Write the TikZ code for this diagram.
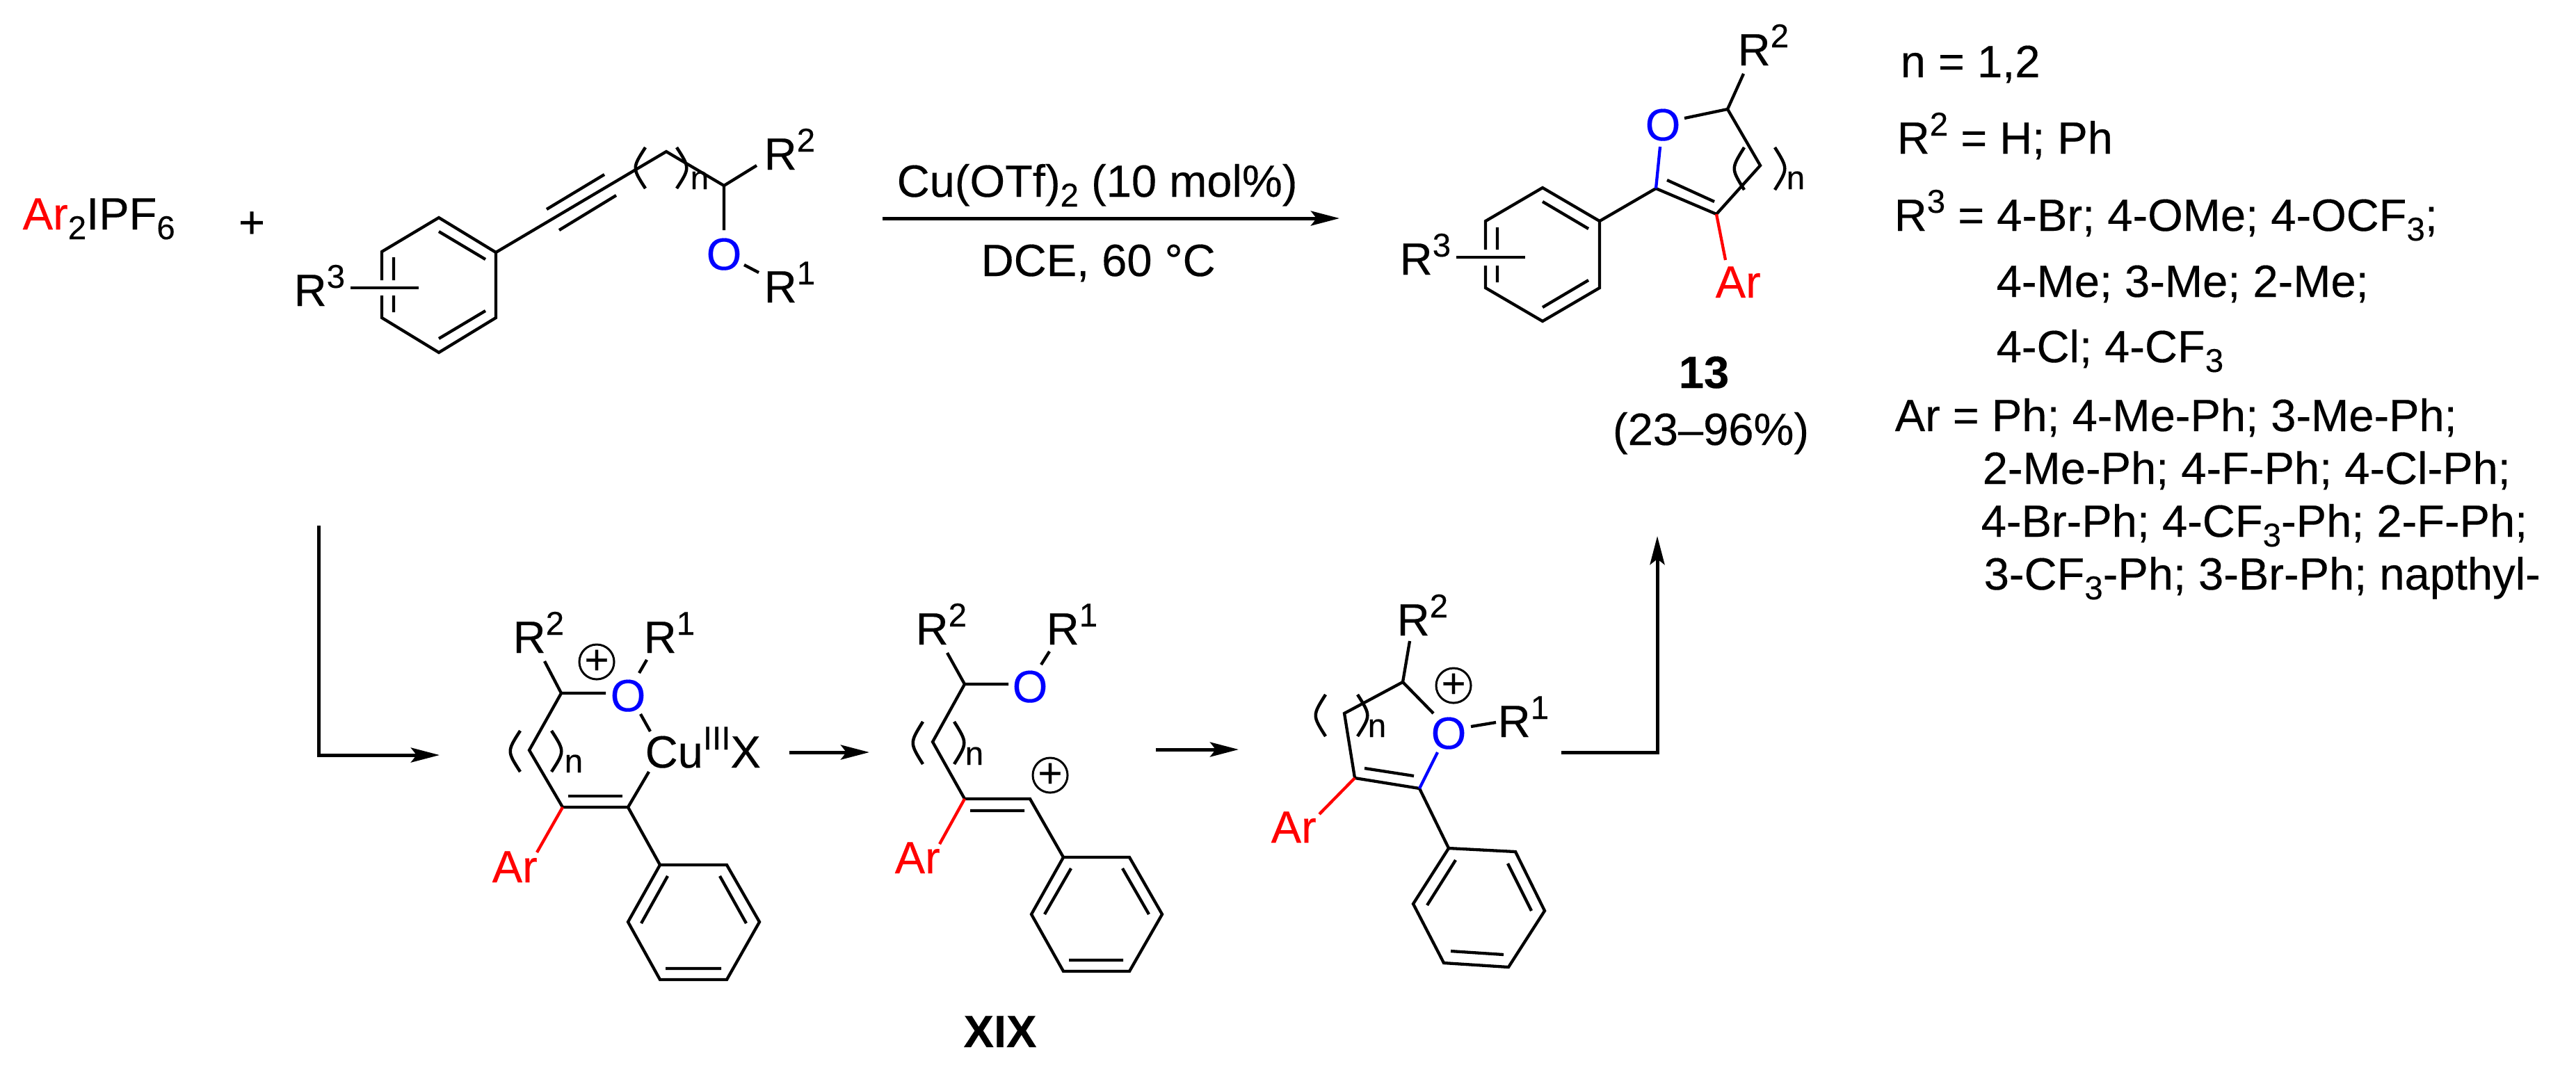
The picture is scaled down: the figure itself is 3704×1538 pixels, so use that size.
\documentclass[tikz,border=0pt]{standalone}
\usepackage{fontspec}
\setmainfont[FakeBold=0.25]{Liberation Sans}
\usetikzlibrary{arrows.meta}
\definecolor{atomblue}{RGB}{0,0,255}
\definecolor{arred}{RGB}{255,0,0}
\newcommand{\smalltxt}{\fontsize{13.5}{16}\selectfont}
\newcommand{\rsup}[1]{\raisebox{0.26cm}{\smalltxt #1}}
\newcommand{\rsub}[1]{\raisebox{-0.14cm}{\smalltxt #1}}
\newcommand{\parpair}[4]{%
  \draw[parenline] (#1,#2) .. controls ({#1-19},{(#2+#4)/2}) .. (#1,#4);
  \draw[parenline] (#3,#2) .. controls ({#3+19},{(#2+#4)/2}) .. (#3,#4);}
\newcommand{\ringsix}[1]{\draw[bond] (#1a)--(#1b)--(#1c)--(#1d)--(#1e)--(#1f)--cycle;}
\tikzset{
  bond/.style={line width=0.043cm},
  redbond/.style={bond, draw=arred},
  bluebond/.style={bond, draw=atomblue},
  parenline/.style={line width=0.045cm},
  arrowline/.style={line width=0.05cm, -{Stealth[length=4.1mm,width=2.1mm,inset=0.8mm]}},
  lab/.style={inner sep=0pt, anchor=base west, font=\fontsize{18.5}{22}\selectfont},
  oxy/.style={lab, anchor=base, text=atomblue},
  arl/.style={lab, text=arred},
  chg/.style={circle, draw, line width=0.03cm, inner sep=0pt, minimum size=0.5cm, font=\fontsize{17}{17}\selectfont},
}
\begin{document}
\begin{tikzpicture}[x=0.01cm, y=-0.01cm]
  \useasboundingbox (0,0) rectangle (3704,1538);

  % starting materials
  \node[lab] (iodonium) at (32,330) {\textcolor{arred}{Ar}\rsub{2}IPF\rsub{6}};
  \node[lab, anchor=base] (plus) at (362,342) {+};
  \coordinate (aa) at (631,313); \coordinate (ab) at (713,363); \coordinate (ac) at (713,457);
  \coordinate (ad) at (631,507); \coordinate (ae) at (549,457); \coordinate (af) at (549,362);
  \coordinate (ag1) at (549,403); \coordinate (ag2) at (549,425);
  \coordinate (at1) at (914,244); \coordinate (at2) at (958,218); \coordinate (at3) at (1041,267);
  \coordinate (ar2) at (1088,238); \coordinate (ao1) at (1041,331);
  \coordinate (ao2) at (1070,381); \coordinate (ar1) at (1091,392);
  \coordinate (ar3a) at (504,414); \coordinate (ar3b) at (602,414);
  \draw[bond] (ag1)--(af)--(aa)--(ab)--(ac)--(ad)--(ae)--(ag2);
  \draw[bond] (631,333)--(698,373) (698,447)--(631,487) (566,370)--(566,403) (566,425)--(566,449);
  \draw[bond] (ar3a)--(ar3b);
  \draw[bond] (ab)--(at1)--(at2)--(at3)--(ar2);
  \draw[bond] (786,301)--(869,251) (804,331)--(886,281);
  \draw[bond] (at3)--(ao1) (ao2)--(ar1);
  \parpair{928}{212}{973}{271}
  \node[lab] (an) at (992,272) {\smalltxt n};
  \node[lab] (ar3l) at (422,440) {R\rsup{3}};
  \node[lab] (ar2l) at (1098,244) {R\rsup{2}};
  \node[lab] (ar1l) at (1098,435) {R\rsup{1}};
  \node[oxy] (aox) at (1041,388) {O};

  % conditions
  \coordinate (cond1) at (1269,314); \coordinate (cond2) at (1926,314);
  \draw[arrowline] (cond1)--(cond2);
  \node[lab] (reagent) at (1289,283) {Cu(OTf)\rsub{2} (10 mol\%)};
  \node[lab] (solvent) at (1410,397) {DCE, 60 °C};

  % product 13
  \coordinate (pa) at (2218,270); \coordinate (pb) at (2300,318); \coordinate (pc) at (2300,414);
  \coordinate (pd) at (2218,462); \coordinate (pe) at (2136,414); \coordinate (pf) at (2136,318);
  \coordinate (pg1) at (2136,359); \coordinate (pg2) at (2136,382);
  \coordinate (pr3a) at (2094,370); \coordinate (pr3b) at (2193,370);
  \coordinate (pc1) at (2381,271); \coordinate (pc2) at (2468,308); \coordinate (pc3) at (2531,238);
  \coordinate (pc4) at (2484,157); \coordinate (po1) at (2387,211); \coordinate (po2) at (2422,170);
  \coordinate (pr2) at (2507,106); \coordinate (par) at (2481,374);
  \draw[bond] (pg1)--(pf)--(pa)--(pb)--(pc)--(pd)--(pe)--(pg2);
  \draw[bond] (2218,290)--(2284,329) (2284,403)--(2218,442) (2153,327)--(2153,359) (2153,382)--(2153,406);
  \draw[bond] (pr3a)--(pr3b);
  \draw[bond] (pb)--(pc1)--(pc2)--(pc3)--(pc4)--(po2) (pc4)--(pr2);
  \draw[bond] (2397,259)--(2465,290);
  \draw[bluebond] (pc1)--(po1);
  \draw[redbond] (pc2)--(par);
  \parpair{2508}{212}{2552}{273}
  \node[lab] (pn) at (2568,272) {\smalltxt n};
  \node[lab] (pr3l) at (2012,395) {R\rsup{3}};
  \node[lab] (pr2l) at (2498,94) {R\rsup{2}};
  \node[oxy] (pox) at (2391,202) {O};
  \node[arl] (parl) at (2466,428) {Ar};
  \node[lab, anchor=base, font=\fontsize{18.5}{22}\selectfont\bfseries] (pnum) at (2450,558) {13};
  \node[lab, anchor=base] (pyield) at (2460,640) {(23–96\%)};

  % scope of the reaction
  \node[lab] (scopea) at (2732,111) {n = 1,2};
  \node[lab] (scopeb) at (2727,221) {R\rsup{2} = H; Ph};
  \node[lab] (scopec) at (2723,332) {R\rsup{3} = 4-Br; 4-OMe; 4-OCF\rsub{3};};
  \node[lab] (scoped) at (2870,427) {4-Me; 3-Me; 2-Me;};
  \node[lab] (scopee) at (2870,521) {4-Cl; 4-CF\rsub{3}};
  \node[lab] (scopef) at (2724,620) {Ar = Ph; 4-Me-Ph; 3-Me-Ph;};
  \node[lab] (scopeg) at (2850,696) {2-Me-Ph; 4-F-Ph; 4-Cl-Ph;};
  \node[lab] (scopeh) at (2848,772) {4-Br-Ph; 4-CF\rsub{3}-Ph; 2-F-Ph;};
  \node[lab] (scopei) at (2852,848) {3-CF\rsub{3}-Ph; 3-Br-Ph; napthyl-};

  % copper complex
  \coordinate (elba) at (458,756); \coordinate (elbb) at (632,1086);
  \draw[arrowline] (elba) |- (elbb);
  \coordinate (bc1) at (807,997); \coordinate (bc2) at (761,1079); \coordinate (bc3) at (809,1161);
  \coordinate (bc4) at (903,1161); \coordinate (br2) at (783,951); \coordinate (bo1) at (871,997);
  \coordinate (bo2) at (919,968); \coordinate (br1) at (930,949); \coordinate (bo3) at (921,1027);
  \coordinate (bcu1) at (935,1052); \coordinate (bcu2) at (933,1110); \coordinate (bar) at (772,1226);
  \coordinate (ba) at (949,1244); \coordinate (bb) at (1045,1244); \coordinate (bc) at (1092,1326);
  \coordinate (bd) at (1045,1409); \coordinate (be) at (949,1409); \coordinate (bf) at (903,1326);
  \draw[bond] (br2)--(bc1)--(bo1) (bc1)--(bc2)--(bc3)--(bc4)--(bcu2) (bc4)--(ba);
  \draw[bond] (bo2)--(br1) (bo3)--(bcu1);
  \draw[bond] (817,1145)--(895,1145);
  \draw[redbond] (bc3)--(bar);
  \ringsix{b}
  \draw[bond] (960,1260)--(922,1328) (1035,1260)--(1073,1328) (957,1393)--(1037,1393);
  \parpair{748}{1051}{793}{1110}
  \node[lab] (bn) at (811,1111) {\smalltxt n};
  \node[lab] (br2l) at (737,939) {R\rsup{2}};
  \node[lab] (br1l) at (925,939) {R\rsup{1}};
  \node[oxy] (box) at (903,1023) {O};
  \node[chg] (bchg) at (858,952) {+};
  \node[lab] (bcu) at (927,1104) {Cu\rsup{III}X};
  \node[arl] (barl) at (707,1269) {Ar};
  \coordinate (arra) at (1135,1082); \coordinate (arrb) at (1250,1082);
  \draw[arrowline] (arra)--(arrb);

  % XIX
  \coordinate (cc1) at (1387,984); \coordinate (cc2) at (1341,1067); \coordinate (cc3) at (1387,1149);
  \coordinate (cc4) at (1481,1149); \coordinate (cr2) at (1362,939); \coordinate (co1) at (1450,984);
  \coordinate (co2) at (1497,956); \coordinate (cr1) at (1509,937); \coordinate (car) at (1351,1214);
  \coordinate (ca) at (1529,1233); \coordinate (cb) at (1624,1233); \coordinate (cc) at (1671,1315);
  \coordinate (cd) at (1624,1397); \coordinate (ce) at (1529,1397); \coordinate (cf) at (1483,1315);
  \draw[bond] (cr2)--(cc1)--(co1) (cc1)--(cc2)--(cc3)--(cc4)--(ca);
  \draw[bond] (co2)--(cr1) (1395,1166)--(1473,1166);
  \draw[redbond] (cc3)--(car);
  \ringsix{c}
  \draw[bond] (1540,1249)--(1502,1315) (1614,1249)--(1652,1315) (1537,1381)--(1615,1381);
  \parpair{1327}{1038}{1372}{1099}
  \node[lab] (cn) at (1387,1100) {\smalltxt n};
  \node[lab] (cr2l) at (1316,927) {R\rsup{2}};
  \node[lab] (cr1l) at (1504,927) {R\rsup{1}};
  \node[oxy] (cox) at (1481,1010) {O};
  \node[chg] (cchg) at (1510,1115) {+};
  \node[arl] (carl) at (1286,1256) {Ar};
  \node[lab, anchor=base, font=\fontsize{18.5}{22}\selectfont\bfseries] (cnum) at (1438,1506) {XIX};
  \coordinate (arrc) at (1662,1078); \coordinate (arrd) at (1781,1078);
  \draw[arrowline] (arrc)--(arrd);

  % oxonium
  \coordinate (dc1) at (2017,981); \coordinate (dc2) at (1933,1026); \coordinate (dc3) at (1948,1119);
  \coordinate (dc4) at (2041,1134); \coordinate (dr2) at (2027,922); \coordinate (do1) at (2061,1026);
  \coordinate (do2) at (2115,1045); \coordinate (dr1) at (2151,1039); \coordinate (do3) at (2067,1082);
  \coordinate (dar) at (1897,1171);
  \coordinate (da) at (2083,1220); \coordinate (db) at (2179,1225); \coordinate (dc) at (2221,1310);
  \coordinate (dd) at (2169,1391); \coordinate (de) at (2076,1385); \coordinate (df) at (2032,1300);
  \draw[bond] (dr2)--(dc1)--(do1) (dc1)--(dc2)--(dc3)--(dc4)--(da);
  \draw[bond] (do2)--(dr1) (1962,1105)--(2033,1116);
  \draw[bluebond] (dc4)--(do3);
  \draw[redbond] (dc3)--(dar);
  \ringsix{d}
  \draw[bond] (2093,1237)--(2052,1302) (2168,1242)--(2202,1310) (2086,1368)--(2162,1373);
  \parpair{1906}{999}{1952}{1059}
  \node[lab] (dn) at (1966,1060) {\smalltxt n};
  \node[lab] (dr2l) at (2008,914) {R\rsup{2}};
  \node[lab] (dr1l) at (2153,1060) {R\rsup{1}};
  \node[oxy] (dox) at (2083,1077) {O};
  \node[chg] (dchg) at (2090,986) {+};
  \node[arl] (darl) at (1827,1212) {Ar};
  \coordinate (elbc) at (2245,1082); \coordinate (elbd) at (2383,771);
  \draw[arrowline] (elbc) -| (elbd);
\end{tikzpicture}
\end{document}
